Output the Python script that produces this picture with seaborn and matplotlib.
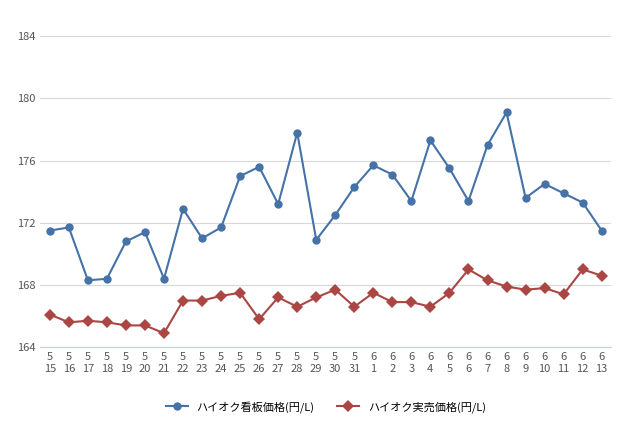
import matplotlib
matplotlib.use("Agg")
import matplotlib.pyplot as plt
import seaborn as sns
import pandas as pd

months = [5] * 17 + [6] * 13
days = list(range(15, 32)) + list(range(1, 14))
board_price = [171.5, 171.7, 168.3, 168.4, 170.8, 171.4, 168.4, 172.9, 171.0, 171.7,
               175.0, 175.6, 173.2, 177.8, 170.9, 172.5, 174.3, 175.7, 175.1, 173.4,
               177.3, 175.5, 173.4, 177.0, 179.1, 173.6, 174.5, 173.9, 173.3, 171.5]
actual_price = [166.1, 165.6, 165.7, 165.6, 165.4, 165.4, 164.9, 167.0, 167.0, 167.3,
                167.5, 165.8, 167.2, 166.6, 167.2, 167.7, 166.6, 167.5, 166.9, 166.9,
                166.6, 167.5, 169.0, 168.3, 167.9, 167.7, 167.8, 167.4, 169.0, 168.6]
labels = [f"{m}\n{d}" for m, d in zip(months, days)]
names = ["ハイオク看板価格(円/L)", "ハイオク実売価格(円/L)"]
colors = ["#4572a7", "#aa4643"]

df = pd.DataFrame({"x": list(range(30)) * 2,
                   "price": board_price + actual_price,
                   "series": [names[0]] * 30 + [names[1]] * 30})

plt.rcParams["font.family"] = "Noto Sans CJK JP"
fig, ax = plt.subplots(figsize=(6.4, 4.26), dpi=100)
fig.subplots_adjust(left=0.063, right=0.955, top=0.915, bottom=0.185)
sns.lineplot(data=df, x="x", y="price", hue="series", style="series",
             palette=colors, markers=["o", "D"], dashes=False,
             markersize=6, markeredgewidth=0, linewidth=1.5, ax=ax)
ax.set_ylim(164, 184)
ax.set_yticks(range(164, 185, 4))
ax.set_xlim(-0.5, 29.5)
ax.set_xticks(range(30))
ax.set_xticklabels(labels)
ax.tick_params(labelsize=8, colors="#555555", length=0)
ax.grid(axis="y", color="#d8d8d8", linewidth=0.8)
for s in ["top", "right", "left"]:
    ax.spines[s].set_visible(False)
ax.spines["bottom"].set_color("#c0d0e0")
ax.set_xlabel("")
ax.set_ylabel("")
ax.legend(loc="upper center", bbox_to_anchor=(0.5, -0.14), ncol=2,
          frameon=False, fontsize=8, title=None)
fig.savefig("out.png")
